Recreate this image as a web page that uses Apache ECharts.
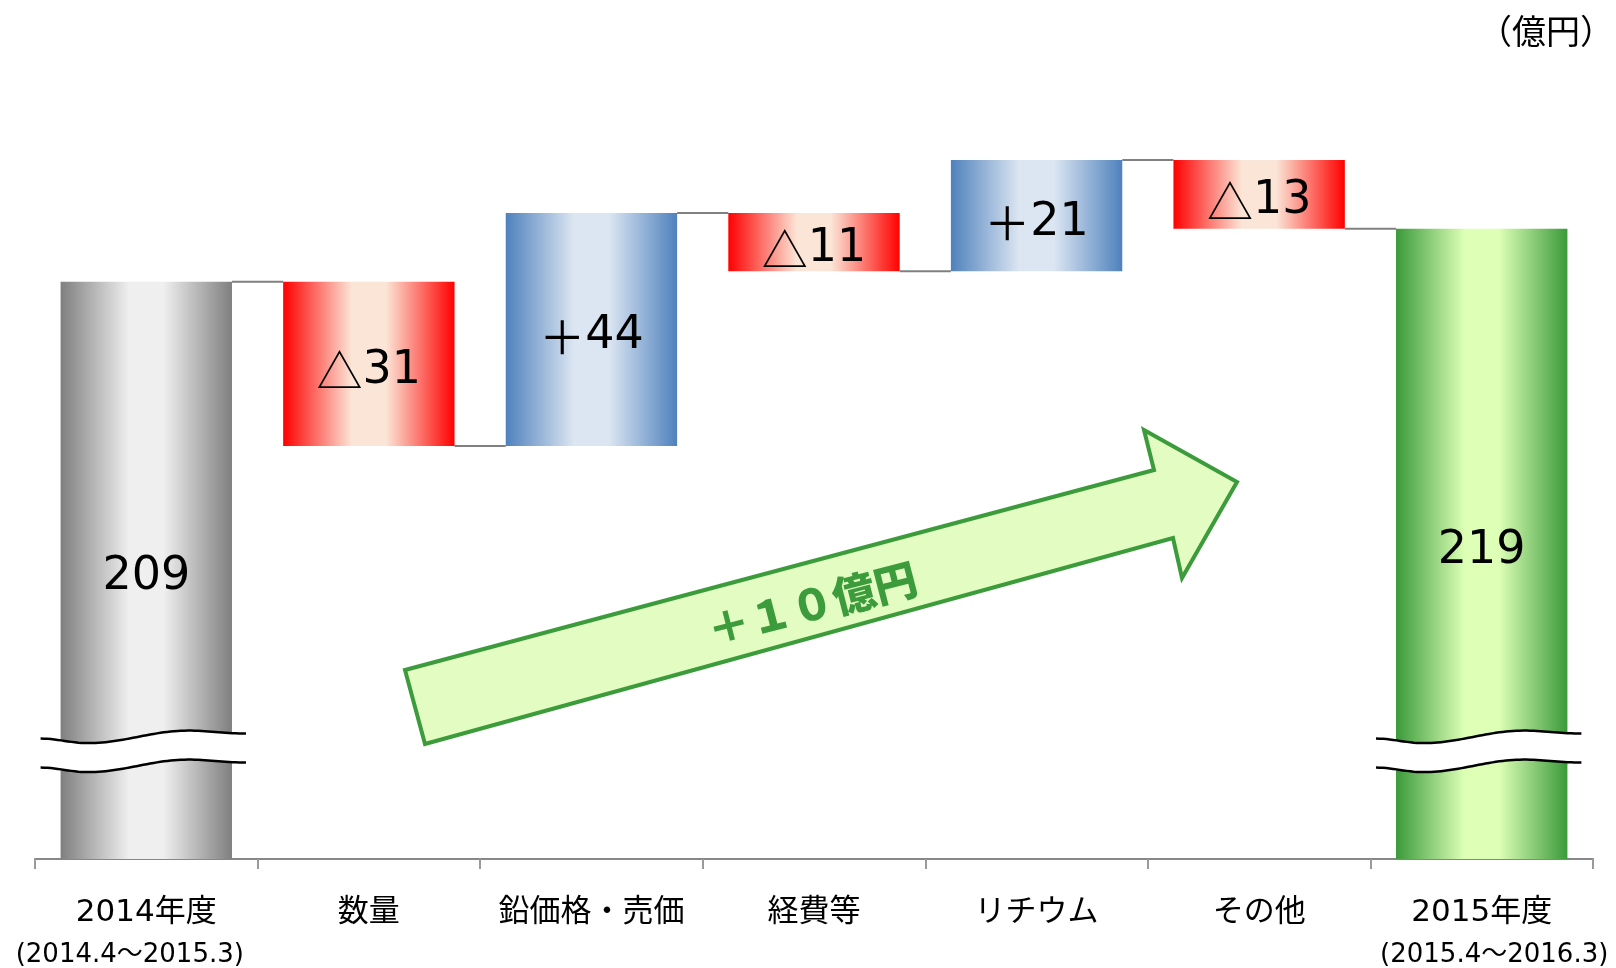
<!DOCTYPE html>
<html><head><meta charset="utf-8">
<script src="https://cdn.jsdelivr.net/npm/echarts@6/dist/echarts.min.js"></script>
<style>html,body{margin:0;padding:0;background:#fff}#c{width:1616px;height:968px}</style>
</head><body><div id="c"></div>
<script>
// ---- data ----
const categories = ['2014年度', '数量', '鉛価格・売価', '経費等', 'リチウム', 'その他', '2015年度'];
const periodLabels = ['(2014.4～2015.3)', '', '', '', '', '', '(2015.4～2016.3)'];
const values = [209, -31, 44, -11, 21, -13, 219];
const isTotal = [true, false, false, false, false, false, true];
const valueLabels = ['209', '△31', '＋44', '△11', '＋21', '△13', '219'];
const axisMin = 100, axisMax = 250;
const breakValue = 120;
const arrowText = '＋１０億円';
const unitText = '（億円）';

// ---- derived ----
const palettes = [
  ['#7f7f7f', '#efefef'], // start total
  ['#ff0000', '#fbe5d6'], // decrease
  ['#4f81bd', '#dce6f2'], // increase
  ['#3a9a3a', '#ddffb6']  // end total
];
let run = 0;
const barData = [], connData = [];
values.forEach((v, i) => {
  let low, high, kind;
  if (isTotal[i]) { low = 0; high = v; run = v; kind = i === 0 ? 0 : 3; }
  else if (v < 0) { low = run + v; high = run; run += v; kind = 1; }
  else { low = run; high = run + v; run += v; kind = 2; }
  barData.push([i, low, high, kind]);
  if (i < values.length - 1) connData.push([i, run]);
});
const breakData = [[0, breakValue], [values.length - 1, breakValue]];

const BAR_RATIO = 0.77;
const FONT = "'DejaVu Sans', 'Noto Sans CJK JP', sans-serif";
const CJK = "'Noto Sans CJK JP', sans-serif";

function grad(p) {
  return new echarts.graphic.LinearGradient(0, 0, 1, 0, [
    { offset: 0, color: p[0] }, { offset: 0.4, color: p[1] },
    { offset: 0.6, color: p[1] }, { offset: 1, color: p[0] }
  ]);
}
function richLabel(s) {
  const m = s.match(/^([△＋]?)(.*)$/);
  return (m[1] ? '{s|' + m[1] + '}' : '') + '{n|' + m[2] + '}';
}
function renderBar(params, api) {
  const i = api.value(0), low = api.value(1), high = api.value(2), k = api.value(3);
  const bw = api.size([1, 0])[0] * BAR_RATIO;
  const pTop = api.coord([i, high]);
  const pBot = api.coord([i, Math.max(low, axisMin)]);
  const cx = pTop[0];
  return {
    type: 'group', children: [
      { type: 'rect', shape: { x: cx - bw / 2, y: pTop[1], width: bw, height: pBot[1] - pTop[1] }, style: { fill: grad(palettes[k]) } },
      { type: 'text', x: cx, y: (pTop[1] + pBot[1]) / 2 + 7, z2: 10, style: {
          text: richLabel(valueLabels[i]), align: 'center', verticalAlign: 'middle',
          rich: {
            s: { fontFamily: CJK, fontSize: 46, fill: '#000' },
            n: { fontFamily: FONT, fontSize: 46, fill: '#000' }
          } } }
    ]
  };
}
function renderConn(params, api) {
  const i = api.value(0), lvl = api.value(1);
  const bw = api.size([1, 0])[0] * BAR_RATIO;
  const p0 = api.coord([i, lvl]), p1 = api.coord([i + 1, lvl]);
  return { type: 'line', shape: { x1: p0[0] + bw / 2, y1: p0[1], x2: p1[0] - bw / 2, y2: p1[1] }, style: { stroke: '#808080', lineWidth: 2 } };
}
const waveKeys = [[0, 0], [0.23, 4.5], [0.72, -8], [1, -5]];
function wave(t) {
  for (let j = 0; j < waveKeys.length - 1; j++) {
    const a = waveKeys[j], b = waveKeys[j + 1];
    if (t <= b[0]) { const u = (t - a[0]) / (b[0] - a[0]); const m = (1 - Math.cos(Math.PI * u)) / 2; return a[1] + (b[1] - a[1]) * m; }
  }
  return waveKeys[waveKeys.length - 1][1];
}
function renderBreak(params, api) {
  const i = api.value(0), v = api.value(1);
  const bw = api.size([1, 0])[0] * BAR_RATIO;
  const c = api.coord([i, v]);
  const x0 = c[0] - bw / 2 - 20, w = bw + 34, gap = 29;
  const top = [], bot = [];
  for (let s = 0; s <= 60; s++) {
    const t = s / 60, dy = wave(t);
    top.push([x0 + t * w, c[1] - gap / 2 + dy]);
    bot.push([x0 + t * w, c[1] + gap / 2 + dy]);
  }
  return {
    type: 'group', children: [
      { type: 'polygon', shape: { points: top.concat(bot.slice().reverse()) }, style: { fill: '#fff' } },
      { type: 'polyline', shape: { points: top }, style: { stroke: '#000', lineWidth: 2.5, fill: null } },
      { type: 'polyline', shape: { points: bot }, style: { stroke: '#000', lineWidth: 2.5, fill: null } }
    ]
  };
}

const chart = echarts.init(document.getElementById('c'), null, { renderer: 'canvas' });
chart.setOption({
  animation: false,
  backgroundColor: '#fff',
  grid: { left: 35, right: 23, top: 64.7, bottom: 108.9 },
  xAxis: {
    type: 'category', data: categories, boundaryGap: true,
    axisLine: { lineStyle: { color: '#878787', width: 2 } },
    axisTick: { show: true, length: 10, lineStyle: { color: '#9a9a9a', width: 2 } },
    axisLabel: {
      interval: 0, margin: 33, color: '#000',
      formatter: (val, idx) => {
        const p = periodLabels[idx];
        let s = '{a|' + val + '}';
        if (p) s += '\n{' + (idx === 0 ? 'b0' : 'b1') + '|' + p + '}';
        return s;
      },
      rich: {
        a: { fontFamily: FONT, fontSize: 31, lineHeight: 42, color: '#000' },
        b0: { fontFamily: FONT, fontSize: 26, lineHeight: 42, color: '#000', padding: [0, 33, 0, 0] },
        b1: { fontFamily: FONT, fontSize: 26, lineHeight: 42, color: '#000', padding: [0, 0, 0, 25] }
      }
    }
  },
  yAxis: { type: 'value', min: axisMin, max: axisMax, show: false, splitLine: { show: false } },
  series: [
    { type: 'custom', renderItem: renderConn, data: connData, encode: { x: 0, y: 1 }, z: 1 },
    { type: 'custom', renderItem: renderBar, data: barData, encode: { x: 0, y: [1, 2] }, z: 2 },
    { type: 'custom', renderItem: renderBreak, data: breakData, encode: { x: 0, y: 1 }, z: 3 }
  ],
  graphic: [
    { type: 'polygon', z: 50,
      shape: { points: [[405, 670], [1154, 470], [1144, 430], [1237, 482], [1182, 578], [1173, 538], [425, 744]] },
      style: { fill: '#e3fcc2', stroke: '#3c9c3c', lineWidth: 4, lineJoin: 'miter' } },
    { type: 'text', z: 51, x: 812, y: 604, rotation: 14.5 * Math.PI / 180,
      style: { text: arrowText, font: "900 43px 'Noto Sans CJK JP'", fill: '#3c9c3c', align: 'center', verticalAlign: 'middle' } },
    { type: 'text', z: 51, x: 1546, y: 31,
      style: { text: unitText, font: "34px 'Noto Sans CJK JP'", fill: '#000', align: 'center', verticalAlign: 'middle' } }
  ]
});
</script></body></html>
